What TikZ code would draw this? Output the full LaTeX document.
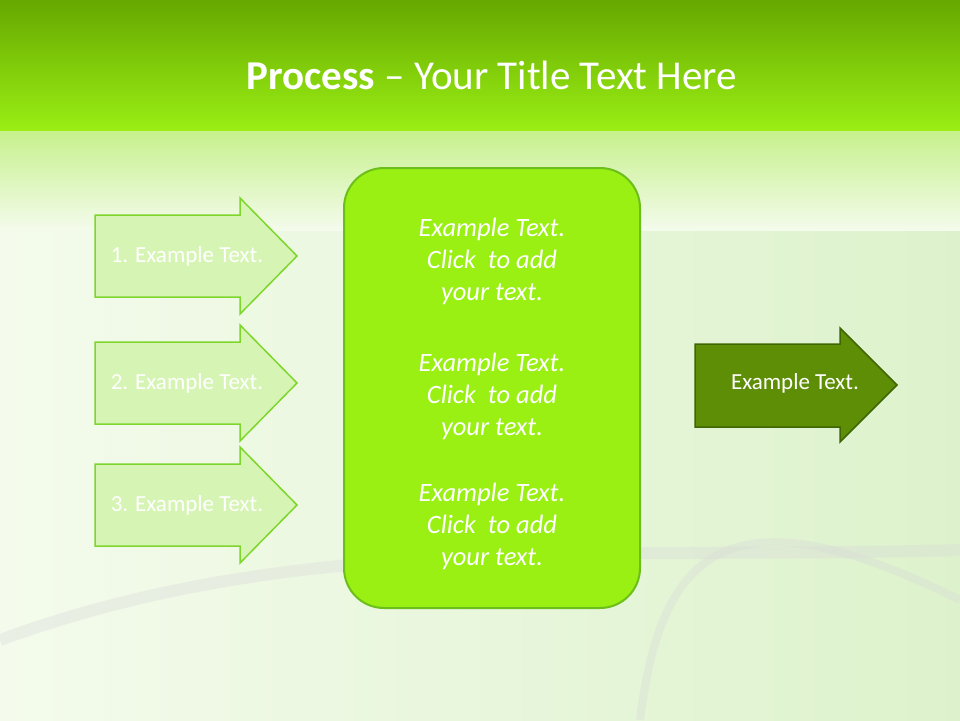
\documentclass[tikz,border=0pt]{standalone}
\usepackage{fontspec}
\setmainfont{Carlito}
\begin{document}
\begin{tikzpicture}[x=1pt,y=-1pt,
  larrow/.style={fill=lgfill,draw=lgline,line width=1.5pt},
  rarrow/.style={fill=dgfill,draw=dgline,line width=1.5pt},
  ltext/.style={text=white,font=\fontsize{23}{26}\selectfont},
  ctext/.style={text=white,font=\itshape\fontsize{26.5}{32}\selectfont,align=center}]
\definecolor{lgfill}{HTML}{D6F5B4}
\definecolor{lgline}{HTML}{7ED62C}
\definecolor{dgfill}{HTML}{5E8E06}
\definecolor{dgline}{HTML}{3E6602}
\definecolor{cfill}{HTML}{99F012}
\definecolor{cline}{HTML}{6CBF1A}
\definecolor{bgA}{HTML}{F4FBEC}
\definecolor{bgB}{HTML}{DDF2CC}
\definecolor{topA}{HTML}{66A800}
\definecolor{topB}{HTML}{9AEE14}
\useasboundingbox (0,0) rectangle (960,720);
\shade[left color=bgA,right color=bgB] (0,0) rectangle (960,720);
\shade[top color=topB!35!bgB,bottom color=bgA] (0,130) rectangle (960,230);
\draw[gray!30,line width=12pt,opacity=0.35] (0,640) .. controls (300,530) and (600,560) .. (960,550);
\draw[gray!30,line width=8pt,opacity=0.35] (640,720) .. controls (660,560) and (720,480) .. (960,600);
\shade[top color=topA,bottom color=topB] (0,0) rectangle (960,130);
\node (title) at (492,75) {\color{white}\fontsize{41}{46}\selectfont\textbf{Process} – Your Title Text Here};
\foreach \n/\c in {a1/256,a2/383,a3/505}{
  \draw[larrow] (95,\c-41) -- (240,\c-41) -- (240,\c-58) -- (297,\c) -- (240,\c+58) -- (240,\c+41) -- (95,\c+41) -- cycle;
}
\node[ltext] (t1) at (187,256) {1. Example Text.};
\node[ltext] (t2) at (187,383) {2. Example Text.};
\node[ltext] (t3) at (187,505) {3. Example Text.};
\draw[fill=cfill,draw=cline,line width=2pt,rounded corners=40pt] (344,168) rectangle (640,608);
\node[ctext] (c1) at (492,261) {Example Text.\\Click\ \ to add\\your text.};
\node[ctext] (c2) at (492,396) {Example Text.\\Click\ \ to add\\your text.};
\node[ctext] (c3) at (492,526) {Example Text.\\Click\ \ to add\\your text.};
\draw[rarrow] (695,344) -- (840,344) -- (840,328) -- (897,385) -- (840,442) -- (840,427) -- (695,427) -- cycle;
\node[ltext] (r) at (795,383) {Example Text.};
\end{tikzpicture}
\end{document}
